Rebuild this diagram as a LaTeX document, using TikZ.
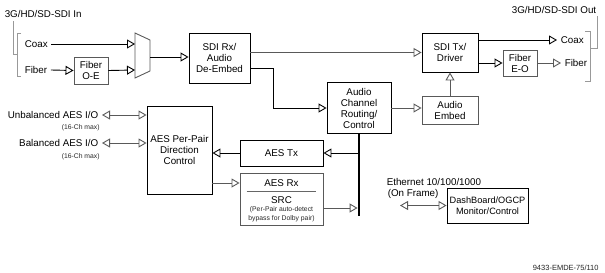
\documentclass[tikz,border=0pt]{standalone}
\usepackage{fontspec}
\setmainfont{Liberation Sans}
\usetikzlibrary{arrows.meta, calc}

\begin{document}
\begin{tikzpicture}[x=1pt, y=-1pt,
  font=\fontsize{9.8}{11}\selectfont, >={Triangle[open, length=8pt, width=9pt, line width=0.9pt]},
  line width=0.9pt,
  blk/.style={draw, align=center, inner sep=0pt},
  gblk/.style={blk, draw=black!65},
  sig/.style={->, draw=black},
  gsig/.style={->, draw=black!65},
  note/.style={font=\fontsize{6.8}{8.8}\selectfont, text=black!85, inner sep=0pt},
  brk/.style={draw=black!40, line width=0.7pt}]
\useasboundingbox (0,0) rectangle (605,273);

% SDI input side
\node[anchor=west] (sdiin) at (1,14) {3G/HD/SD-SDI In};
\node[anchor=west] (coaxin) at (21,44) {Coax};
\node[anchor=west] (fiberin) at (21,70) {Fiber};
\draw[brk] (13,21) |- (17,54);
\draw[brk] (21,33) -| (17,76) -- (21,76);
\node[gblk, minimum width=34pt, minimum height=27pt] (oe) at (91,70.5) {Fiber\\O-E};
\coordinate (mux1) at (135,44);
\coordinate (mux2) at (135,70);
\coordinate (muxout) at (150,57);
\draw[black!65] (135,33) -- (150,40) -- (150,71) -- (135,78) -- cycle;
\draw[sig] (coaxin.east) -- (mux1);
\draw[sig] (fiberin.east) -- (oe.west);
\draw[sig] (oe.east) -- (mux2);

% SDI path
\node[blk, minimum width=61pt, minimum height=50pt] (rx) at (219.5,58) {SDI Rx/\\Audio\\De-Embed};
\node[blk, minimum width=56pt, minimum height=39pt] (tx) at (450,52.5) {SDI Tx/\\Driver};
\node[blk, minimum width=64pt, minimum height=51pt] (ac) at (359,108) {Audio\\Channel\\Routing/\\Control};
\node[gblk, minimum width=56pt, minimum height=28pt] (embed) at (450,110) {Audio\\Embed};
\node[gblk, minimum width=34pt, minimum height=26pt] (eo) at (520,63) {Fiber\\E-O};
\draw[sig] (muxout) -- (muxout -| rx.west);
\draw[gsig] (rx.east |- tx.west) -- (tx.west);
\draw[sig] ([yshift=-10pt]rx.east) -- ++(23,0) |- (ac.west);
\draw[gsig] (ac.east) -- (ac.east -| embed.west);
\draw[gsig] (embed.north) -- (tx.south);

% SDI output side
\node[anchor=east] (sdiout) at (600,10) {3G/HD/SD-SDI Out};
\node[anchor=west] (coaxout) at (557,40) {Coax};
\node[anchor=west] (fiberout) at (561,63) {Fiber};
\draw[sig] (tx.east |- coaxout.west) -- (coaxout.west);
\draw[sig] (tx.east |- eo.west) -- (eo.west);
\draw[gsig] (eo.east) -- (fiberout.west);
\draw[brk] (585,31) -| (590,81) -- (585,81);
\draw[brk] (597,16) |- (590,48);

% AES side
\node[anchor=east] (unbal) at (102,115) {Unbalanced AES I/O};
\node[note, anchor=east] (unbalnote) at (100,128) {(16-Ch max)};
\node[anchor=east] (bal) at (102,143) {Balanced AES I/O};
\node[note, anchor=east] (balnote) at (100,157) {(16-Ch max)};
\node[blk, minimum width=65pt, minimum height=88pt] (pp) at (179.5,150) {AES Per-Pair\\Direction\\Control};
\draw[gsig, <->] (unbal.east) -- (unbal.east -| pp.west);
\draw[gsig, <->] (bal.east) -- (bal.east -| pp.west);

\node[blk, minimum width=83pt, minimum height=26pt] (aestx) at (281.5,153) {AES Tx};
\node[gblk, minimum width=83pt, minimum height=52pt] (aesrx) at (281.5,199) {};
\node (rxlbl) at (281.5,183) {AES Rx};
\node (src) at (281.5,200.5) {SRC};
\node[note, align=center] (bypass) at (281.5,214) {(Per-Pair auto-detect\\bypass for Dolby pair)};
\draw[black!60] ($(aesrx.north west)+(7,19)$) -- ($(aesrx.north east)+(-7,19)$);

% audio bus
\coordinate (busend) at (359,216);
\draw[line width=2.8pt] (ac.south) -- (busend);
\draw[sig] (ac.south |- aestx.east) -- (aestx.east);
\draw[sig] (aestx.west) -- (aestx.west -| pp.east);
\draw[gsig] (pp.east |- rxlbl) -- (aesrx.west |- rxlbl);
\draw[gsig, shorten >=1.4pt] ([yshift=-9pt]aesrx.east) -- ([yshift=-9pt]aesrx.east -| busend);

% control
\node[anchor=west, align=left] (eth) at (383,188) {Ethernet 10/100/1000\\\hspace{1pt}(On Frame)};
\node[blk, minimum width=81pt, minimum height=35pt, font=\fontsize{9.2}{11}\selectfont] (dash) at (487.5,205.5) {DashBoard/OGCP\\Monitor/Control};
\coordinate (ethend) at (400,205.5);
\draw[gsig, <->] (ethend) -- (dash.west);

\node[note, anchor=east, font=\fontsize{7.5}{9}\selectfont] (docid) at (599,268) {9433-EMDE-75/110};
\end{tikzpicture}
\end{document}
